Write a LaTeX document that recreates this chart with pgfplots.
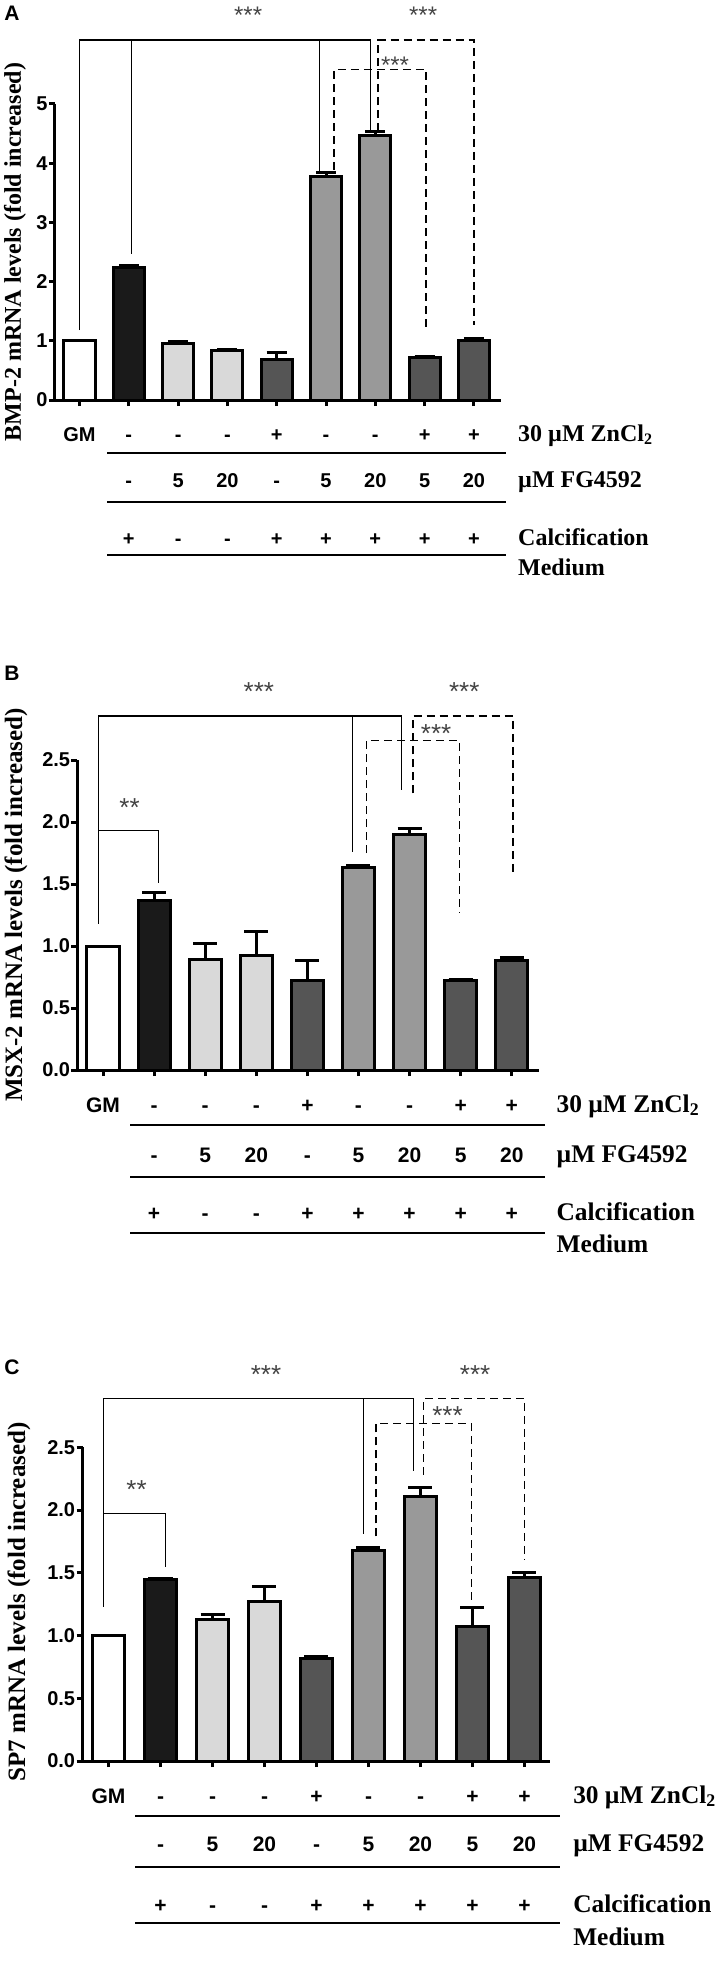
\documentclass[border=0pt]{standalone}
\usepackage{fontspec}
\setmainfont{Liberation Sans}
\newfontfamily\tnr{Liberation Serif}
\usepackage{pgfplots}
\pgfplotsset{compat=1.18}

\definecolor{barblack}{HTML}{1A1A1A}
\definecolor{barlight}{HTML}{D9D9D9}
\definecolor{bardark}{HTML}{555555}
\definecolor{barmid}{HTML}{999999}
\definecolor{astgray}{HTML}{444444}

\tikzset{
  brk/.style={line width=0.6pt, black},
  dbrk/.style={line width=0.8pt, black, dash pattern=on 4pt off 2.5pt},
  ast/.style={font=\astfont, text=astgray, inner sep=0pt, yshift=-2.5pt},
  rt/.style={anchor=base, font=\rowfont, inner sep=0pt},
  rtt/.style={anchor=base west, font=\serfont, inner sep=0pt},
  rule/.style={line width=1pt, black},
}
\def\astfont{\fontsize{12}{14}\selectfont}
\def\rowfont{\bfseries\fontsize{10}{12}\selectfont}
\def\serfont{\tnr\bfseries\fontsize{12}{14}\selectfont}

\pgfplotsset{
  gpaxis/.style={scale only axis, clip=false, anchor=south west,
    axis lines*=left, y axis line style={draw=none}, x axis line style={line width=1.5pt},
    tick align=outside, major tick length=3pt, tick style={line width=1.5pt, black},
    xmin=0.5, ymin=0, xtick={1,...,9}, xticklabels={},
    yticklabel style={font=\bfseries\fontsize{10}{12}\selectfont, inner sep=0.5pt},
    /pgf/number format/assume math mode=true},
  gpbar/.style={ybar, bar width=0.63, bar shift=0pt, draw=black, line width=1.5pt},
  gperr/.style={error bars/.cd, y dir=plus, y explicit,
    error bar style={line width=1.5pt, black},
    error mark options={rotate=90, mark size=#1, line width=1.5pt, black}},
}

% rows of conditions below an axis
% #1 row1 base, #2 rule1, #3 row2 base, #4 rule2, #5 row3 base, #6 rule3, #7 Medium base, #8 rule from, #9 rule to
\newcommand{\condrows}[9]{%
  \node[rt,yshift=-#1] at (axis cs:1,0) {GM};
  \node[rt,yshift=-#1] at (axis cs:2,0) {-};
  \node[rt,yshift=-#1] at (axis cs:3,0) {-};
  \node[rt,yshift=-#1] at (axis cs:4,0) {-};
  \node[rt,yshift=-#1] at (axis cs:5,0) {+};
  \node[rt,yshift=-#1] at (axis cs:6,0) {-};
  \node[rt,yshift=-#1] at (axis cs:7,0) {-};
  \node[rt,yshift=-#1] at (axis cs:8,0) {+};
  \node[rt,yshift=-#1] at (axis cs:9,0) {+};
  \node[rt,yshift=-#3] at (axis cs:2,0) {-};
  \node[rt,yshift=-#3] at (axis cs:3,0) {5};
  \node[rt,yshift=-#3] at (axis cs:4,0) {20};
  \node[rt,yshift=-#3] at (axis cs:5,0) {-};
  \node[rt,yshift=-#3] at (axis cs:6,0) {5};
  \node[rt,yshift=-#3] at (axis cs:7,0) {20};
  \node[rt,yshift=-#3] at (axis cs:8,0) {5};
  \node[rt,yshift=-#3] at (axis cs:9,0) {20};
  \node[rt,yshift=-#5] at (axis cs:2,0) {+};
  \node[rt,yshift=-#5] at (axis cs:3,0) {-};
  \node[rt,yshift=-#5] at (axis cs:4,0) {-};
  \node[rt,yshift=-#5] at (axis cs:5,0) {+};
  \node[rt,yshift=-#5] at (axis cs:6,0) {+};
  \node[rt,yshift=-#5] at (axis cs:7,0) {+};
  \node[rt,yshift=-#5] at (axis cs:8,0) {+};
  \node[rt,yshift=-#5] at (axis cs:9,0) {+};
  \draw[rule] ([yshift=-#2]axis cs:#8,0) -- ([yshift=-#2]axis cs:#9,0);
  \draw[rule] ([yshift=-#4]axis cs:#8,0) -- ([yshift=-#4]axis cs:#9,0);
  \draw[rule] ([yshift=-#6]axis cs:#8,0) -- ([yshift=-#6]axis cs:#9,0);
  \node[rtt,yshift=-#1] at (axis cs:\tk,0) {30 µM ZnCl\textsubscript{2}};
  \node[rtt,yshift=-#3] at (axis cs:\tk,0) {µM FG4592};
  \node[rtt,yshift=-#5] at (axis cs:\tk,0) {Calcification};
  \node[rtt,yshift=-#7] at (axis cs:\tk,0) {Medium};
}

\begin{document}
\begin{tikzpicture}
\path[use as bounding box] (0,0) rectangle (360pt,-984.5pt);

% ---------------- panel A ----------------
\node[font=\bfseries\fontsize{10.5}{12}\selectfont, inner sep=0pt] at (6pt,-6.5pt) {A};
\node[rotate=90, font=\tnr\bfseries\fontsize{12}{14}\selectfont, inner sep=0pt] at (7.5pt,-126pt) {BMP-2 mRNA levels (fold increased)};
\def\tk{9.89}
\begin{axis}[gpaxis, at={(27.43pt,-200pt)}, width=223.08pt, height=199.8pt,
  xmax=9.55, ymax=6.75, ytick={0,1,2,3,4,5}]
\addplot[fill=white, gpbar] coordinates {(1,1.00)};
\addplot[fill=barblack, gpbar, gperr=5pt] coordinates {(2,2.24) +- (0,0.03)};
\addplot[fill=barlight, gpbar, gperr=5pt] coordinates {(3,0.96) +- (0,0.03) (4,0.83) +- (0,0.03)};
\addplot[fill=bardark, gpbar, gperr=5pt] coordinates {(5,0.68) +- (0,0.13) (8,0.71) +- (0,0.02) (9,1.01) +- (0,0.03)};
\addplot[fill=barmid, gpbar, gperr=5pt] coordinates {(6,3.77) +- (0,0.07) (7,4.46) +- (0,0.07)};
\draw[line width=1.5pt] (axis cs:0.5,5) -- ([yshift=-0.75pt]axis cs:0.5,0);
\draw[brk] (axis cs:1,1.18) -- (axis cs:1,6.08) -- (axis cs:6.91,6.08) -- (axis cs:6.91,4.54);
\draw[brk] (axis cs:2.05,6.08) -- (axis cs:2.05,2.47);
\draw[brk] (axis cs:5.87,6.08) -- (axis cs:5.87,3.86);
\draw[dbrk] (axis cs:7.05,4.54) -- (axis cs:7.05,6.08) -- (axis cs:9,6.08) -- (axis cs:9,1.27);
\draw[dbrk] (axis cs:6.16,3.89) -- (axis cs:6.16,5.58) -- (axis cs:8.03,5.58) -- (axis cs:8.03,1.18);
\node[ast] at (axis cs:4.42,6.59) {***};
\node[ast] at (axis cs:7.97,6.59) {***};
\node[ast] at (axis cs:7.40,5.74) {***};
\condrows{20.5pt}{26.5pt}{43.5pt}{51pt}{72.5pt}{77.5pt}{87.5pt}{1.56}{9.65}
\end{axis}

% ---------------- panel B ----------------
\def\astfont{\fontsize{13}{15}\selectfont}
\def\rowfont{\bfseries\fontsize{10.5}{12}\selectfont}
\def\serfont{\tnr\bfseries\fontsize{12.7}{14}\selectfont}
\node[font=\bfseries\fontsize{10.5}{12}\selectfont, inner sep=0pt] at (6pt,-336.5pt) {B};
\node[rotate=90, font=\tnr\bfseries\fontsize{12.5}{14}\selectfont, inner sep=0pt] at (8pt,-452.5pt) {MSX-2 mRNA levels (fold increased)};
\def\tk{9.87}
\begin{axis}[gpaxis, at={(38.73pt,-535pt)}, width=230.7pt, height=201.5pt,
  xmax=9.53, ymax=3.25, ytick={0,0.5,1,1.5,2,2.5},
  yticklabel style={/pgf/number format/.cd, fixed, fixed zerofill, precision=1}]
\addplot[fill=white, gpbar] coordinates {(1,1.00)};
\addplot[fill=barblack, gpbar, gperr=6pt] coordinates {(2,1.37) +- (0,0.06)};
\addplot[fill=barlight, gpbar, gperr=6pt] coordinates {(3,0.89) +- (0,0.13) (4,0.92) +- (0,0.20)};
\addplot[fill=bardark, gpbar, gperr=6pt] coordinates {(5,0.72) +- (0,0.16) (8,0.72) +- (0,0.01) (9,0.88) +- (0,0.03)};
\addplot[fill=barmid, gpbar, gperr=6pt] coordinates {(6,1.63) +- (0,0.02) (7,1.90) +- (0,0.05)};
\draw[line width=1.5pt] (axis cs:0.5,2.5) -- ([yshift=-0.75pt]axis cs:0.5,0);
\draw[brk] (axis cs:0.91,1.18) -- (axis cs:0.91,2.855) -- (axis cs:6.84,2.855) -- (axis cs:6.84,2.26);
\draw[brk] (axis cs:5.89,2.855) -- (axis cs:5.89,1.76);
\draw[brk] (axis cs:0.91,1.93) -- (axis cs:2.08,1.93) -- (axis cs:2.08,1.505);
\draw[dbrk] (axis cs:7.07,2.23) -- (axis cs:7.07,2.855) -- (axis cs:9.02,2.855) -- (axis cs:9.02,1.56);
\draw[dbrk] (axis cs:6.16,1.75) -- (axis cs:6.16,2.656) -- (axis cs:7.98,2.656) -- (axis cs:7.98,1.27);
\node[ast] at (axis cs:1.52,2.16) {**};
\node[ast] at (axis cs:4.05,3.09) {***};
\node[ast] at (axis cs:8.07,3.09) {***};
\node[ast] at (axis cs:7.52,2.75) {***};
\condrows{21pt}{27.5pt}{46pt}{53.5pt}{75pt}{81.5pt}{91pt}{1.53}{9.65}
\end{axis}

% ---------------- panel C ----------------
\node[font=\bfseries\fontsize{10.5}{12}\selectfont, inner sep=0pt] at (6pt,-683.5pt) {C};
\node[rotate=90, font=\tnr\bfseries\fontsize{12.5}{14}\selectfont, inner sep=0pt] at (9.5pt,-801pt) {SP7 mRNA levels (fold increased)};
\def\tk{9.93}
\begin{axis}[gpaxis, at={(41.25pt,-880.5pt)}, width=234pt, height=203.9pt,
  xmax=9.5, ymax=3.25, ytick={0,0.5,1,1.5,2,2.5},
  yticklabel style={/pgf/number format/.cd, fixed, fixed zerofill, precision=1}]
\addplot[fill=white, gpbar] coordinates {(1,1.00)};
\addplot[fill=barblack, gpbar, gperr=6pt] coordinates {(2,1.45) +- (0,0.005)};
\addplot[fill=barlight, gpbar, gperr=6pt] coordinates {(3,1.13) +- (0,0.04) (4,1.27) +- (0,0.12)};
\addplot[fill=bardark, gpbar, gperr=6pt] coordinates {(5,0.82) +- (0,0.01) (8,1.07) +- (0,0.15) (9,1.46) +- (0,0.04)};
\addplot[fill=barmid, gpbar, gperr=6pt] coordinates {(6,1.68) +- (0,0.02) (7,2.11) +- (0,0.07)};
\draw[line width=1.5pt] (axis cs:0.5,2.5) -- ([yshift=-0.75pt]axis cs:0.5,0);
\draw[brk] (axis cs:0.91,1.23) -- (axis cs:0.91,2.89) -- (axis cs:6.86,2.89) -- (axis cs:6.86,2.31);
\draw[brk] (axis cs:5.90,2.89) -- (axis cs:5.90,1.81);
\draw[brk] (axis cs:0.91,1.97) -- (axis cs:2.09,1.97) -- (axis cs:2.09,1.55);
\draw[dbrk] (axis cs:7.06,2.28) -- (axis cs:7.06,2.89) -- (axis cs:9.0,2.89) -- (axis cs:9.0,1.60);
\draw[dbrk] (axis cs:6.15,1.79) -- (axis cs:6.15,2.69) -- (axis cs:7.98,2.69) -- (axis cs:7.98,1.26);
\node[ast] at (axis cs:1.54,2.20) {**};
\node[ast] at (axis cs:4.03,3.12) {***};
\node[ast] at (axis cs:8.05,3.12) {***};
\node[ast] at (axis cs:7.52,2.79) {***};
\condrows{21pt}{27.5pt}{45pt}{53pt}{75.5pt}{81pt}{92pt}{1.51}{9.68}
\end{axis}
\end{tikzpicture}
\end{document}
